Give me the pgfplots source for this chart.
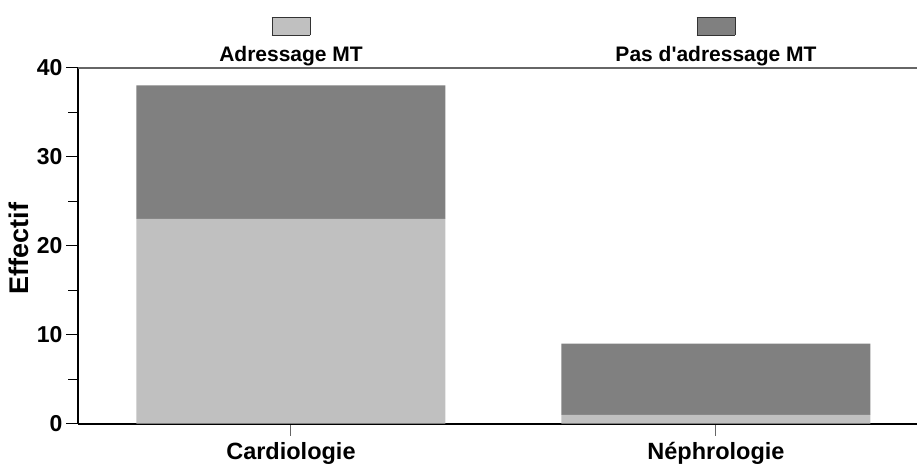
\documentclass[border=0pt]{standalone}
\usepackage{fontspec}
\setmainfont{Liberation Sans}[Ligatures=TeXOff]
\usepackage{pgfplots}
\pgfplotsset{compat=1.18}
\definecolor{lightbar}{HTML}{C0C0C0}
\definecolor{darkbar}{HTML}{808080}
\setlength{\fboxsep}{0pt}
\setlength{\fboxrule}{0.9pt}
\newcommand{\swatch}[1]{\fcolorbox{black!80}{#1}{\rule{0pt}{17pt}\rule{37pt}{0pt}}}
\begin{document}
\begin{tikzpicture}
\useasboundingbox (-78pt,-41.3pt) rectangle (840pt,423.7pt);
\begin{axis}[
  at={(0,0)}, anchor=south west,
  scale only axis, width=839pt, height=356pt,
  ybar stacked, bar width=0.727,
  xmin=-0.501, xmax=1.473, ymin=0, ymax=40,
  axis x line*=bottom, axis y line*=left,
  x axis line style={line width=2pt, -},
  y axis line style={line width=1.3pt, -},
  xtick={0,1}, xticklabels={Cardiologie, Néphrologie},
  ytick={0,10,20,30}, extra y ticks={40},
  extra y tick style={grid=major, major grid style={draw=black!60, line width=2pt}},
  minor ytick={5,15,25,35},
  tick align=outside, major tick length=12pt, minor tick length=10pt,
  ytick style={line width=1pt, black},
  xtick style={line width=1pt, black!60},
  /pgf/number format/assume math mode=true,
  yticklabel style={font=\fontsize{23}{26}\selectfont\bfseries, xshift=0pt},
  xticklabel style={font=\fontsize{23.5}{27}\selectfont\bfseries, yshift=-3pt},
  ylabel={Effectif},
  ylabel style={font=\fontsize{27}{30}\selectfont\bfseries, at={(axis description cs:-0.0703,0.492)}, anchor=center},
  legend columns=2,
  legend style={draw=none, fill=none, inner sep=0pt, outer sep=0pt,
    at={(axis description cs:0.5072,1.012)}, anchor=south,
    font=\fontsize{21}{24}\selectfont\bfseries,
    nodes={inner sep=0pt},
    /tikz/every even column/.style={column sep=0pt}},
  legend image code/.code={},
]
\addplot[fill=lightbar, draw=none] coordinates {(0,23) (1,1)};
\addlegendentry{\makebox[425pt]{\shortstack{\swatch{lightbar}\\[8pt]Adressage MT}}}
\addplot[fill=darkbar, draw=none] coordinates {(0,15) (1,8)};
\addlegendentry{\makebox[425pt]{\shortstack{\swatch{darkbar}\\[8pt]Pas d'adressage MT}}}
\end{axis}
\end{tikzpicture}
\end{document}
